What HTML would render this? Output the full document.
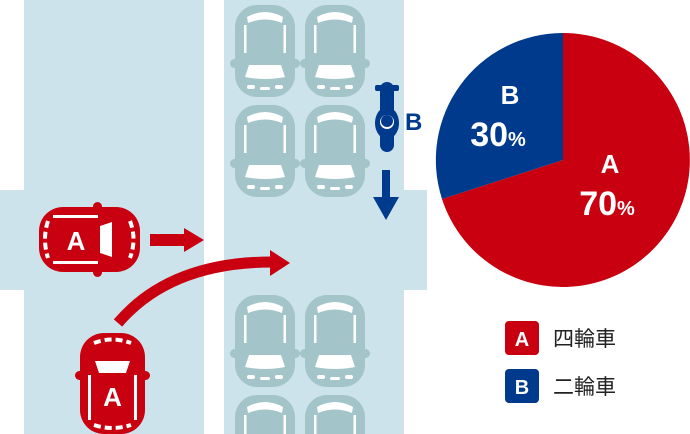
<!DOCTYPE html>
<html><head><meta charset="utf-8"><style>
html,body{margin:0;background:#fff;width:690px;height:434px;overflow:hidden}
svg{display:block}
text{font-family:"Liberation Sans","Noto Sans CJK JP",sans-serif}
</style></head><body>
<svg width="690" height="434" viewBox="0 0 690 434" xmlns="http://www.w3.org/2000/svg">
<defs>
<g id="gc">
 <rect x="-5" y="54" width="70" height="9" rx="4.5" fill="#a3c4c8"/>
 <rect x="0" y="0" width="60" height="92" rx="22" fill="#a3c4c8"/>
 <path d="M12 12 Q30 2 48 12 L47 18 Q30 11 13 18Z" fill="#fff"/>
 <path d="M14 60 L46 60 L50 72 Q30 76 10 72Z" fill="#fff"/>
 <rect x="9" y="20" width="2.5" height="28" fill="#fff"/><rect x="48.5" y="20" width="2.5" height="28" fill="#fff"/>
 <rect x="12" y="80" width="8" height="4" rx="2" fill="#fff"/><rect x="40" y="80" width="8" height="4" rx="2" fill="#fff"/>
 <rect x="25" y="82" width="10" height="3" rx="1.5" fill="#fff"/>
</g>
<g id="rc">
 <rect x="-5" y="38" width="75" height="9" rx="4.5" fill="#c8000f"/>
 <rect x="0" y="0" width="65" height="101" rx="24" fill="#c8000f"/>
 <path d="M14 10 Q32 3 51 10" stroke="#fff" stroke-width="4" fill="none" stroke-dasharray="7 4"/>
 <path d="M15 28 L50 28 L46 40 L19 40Z" fill="#fff"/>
 <rect x="8" y="42" width="3" height="45" fill="#fff"/><rect x="54" y="42" width="3" height="45" fill="#fff"/>
 <path d="M14 92 Q32 98 51 92" stroke="#fff" stroke-width="4" fill="none" stroke-dasharray="7 4"/>
</g>
</defs>
<rect x="24" y="0" width="180" height="434" fill="#cce3ec"/>
<rect x="224" y="0" width="180" height="434" fill="#cce3ec"/>
<rect x="0" y="190" width="204" height="100" fill="#cce3ec"/>
<rect x="224" y="190" width="203" height="100" fill="#cce3ec"/>
<use href="#gc" x="235" y="5"/><use href="#gc" x="305" y="5"/>
<use href="#gc" x="235" y="105"/><use href="#gc" x="305" y="105"/>
<use href="#gc" x="235" y="295"/><use href="#gc" x="305" y="295"/>
<use href="#gc" x="235" y="395"/><use href="#gc" x="305" y="395"/>
<g fill="#003a8c">
 <rect x="375" y="85" width="24" height="6" rx="2"/>
 <rect x="380" y="82" width="14" height="70" rx="7"/>
 <ellipse cx="387" cy="123" rx="12" ry="16"/>
 <circle cx="387" cy="122" r="7" fill="#fff"/><circle cx="387" cy="121" r="6"/>
</g>
<text x="405" y="130" font-size="24" font-weight="bold" fill="#003a8c">B</text>
<rect x="382" y="170" width="8" height="28" fill="#003a8c"/>
<path d="M373 197 L399 197 L386 220Z" fill="#003a8c"/>
<use href="#rc" transform="translate(140,207) rotate(90)"/>
<text x="76" y="250" font-size="26" font-weight="bold" fill="#fff" text-anchor="middle">A</text>
<use href="#rc" x="80" y="333"/>
<text x="112.5" y="406" font-size="26" font-weight="bold" fill="#fff" text-anchor="middle">A</text>
<rect x="150" y="234" width="35" height="12" fill="#c8000f"/>
<path d="M184 228 L204 240 L184 252Z" fill="#c8000f"/>
<path d="M118 323 Q170 262 272 262" stroke="#c8000f" stroke-width="11" fill="none"/>
<path d="M270 250 L290 263 L270 276Z" fill="#c8000f"/>
<path d="M563 160 L563 33 A127 127 0 1 1 442 199 Z" fill="#c8000f"/>
<path d="M563 160 L442 199 A127 127 0 0 1 563 33 Z" fill="#003a8c"/>
<text x="510" y="104" font-size="26" font-weight="bold" fill="#fff" text-anchor="middle">B</text>
<text x="498" y="146" font-size="34" font-weight="bold" fill="#fff" text-anchor="middle">30<tspan font-size="20">%</tspan></text>
<text x="610" y="173" font-size="26" font-weight="bold" fill="#fff" text-anchor="middle">A</text>
<text x="607" y="215" font-size="34" font-weight="bold" fill="#fff" text-anchor="middle">70<tspan font-size="20">%</tspan></text>
<rect x="505" y="321" width="34" height="34" rx="4" fill="#c8000f"/>
<text x="522" y="346" font-size="20" font-weight="bold" fill="#fff" text-anchor="middle">A</text>
<text x="553" y="346" font-size="21" fill="#222">四輪車</text>
<rect x="505" y="369" width="34" height="34" rx="4" fill="#003a8c"/>
<text x="522" y="394" font-size="20" font-weight="bold" fill="#fff" text-anchor="middle">B</text>
<text x="553" y="394" font-size="21" fill="#222">二輪車</text>
</svg>
</body></html>
